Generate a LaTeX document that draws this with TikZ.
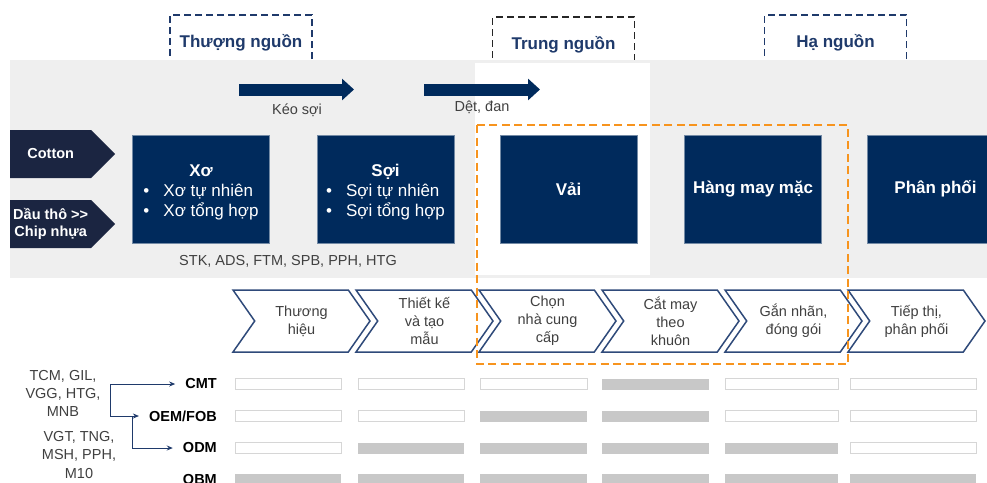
\documentclass[tikz,border=0pt]{standalone}
\usepackage{fontspec}
\setmainfont{Liberation Sans}
\definecolor{navy}{RGB}{0,42,92}
\definecolor{tagnavy}{RGB}{27,37,65}
\definecolor{headblue}{RGB}{31,58,107}
\definecolor{chevblue}{RGB}{47,74,122}
\definecolor{accent}{RGB}{247,148,30}
\definecolor{bandgray}{RGB}{239,239,239}
\definecolor{bargray}{RGB}{200,200,200}
\definecolor{barline}{RGB}{214,214,214}
\definecolor{textgray}{RGB}{64,64,64}
\usetikzlibrary{arrows.meta,shapes.symbols,positioning}
\tikzset{
  phase/.style={rectangle,draw=headblue,text=headblue,line width=1.8pt,
                dash pattern=on 7pt off 4pt,minimum width=142pt,
                minimum height=56pt,font=\fontsize{17}{20}\selectfont\bfseries},
  stage/.style={rectangle,fill=navy,draw=navy!55!white,line width=0.8pt,
                minimum width=137pt,minimum height=108pt,text=white,
                align=center,inner sep=0pt,font=\fontsize{17}{20}\selectfont},
  tag/.style={signal,signal to=east,signal pointer angle=90,fill=tagnavy,
              text=white,minimum width=105pt,minimum height=48pt,inner sep=2pt,
              align=center,font=\fontsize{14.5}{17}\selectfont\bfseries},
  chev/.style={signal,signal from=west,signal to=east,signal pointer angle=110,
               draw=chevblue,line width=1.5pt,fill=white,minimum width=137pt,
               minimum height=62pt,inner sep=1pt,align=center,text=textgray,
               font=\fontsize{14.5}{18}\selectfont},
  note/.style={text=textgray,font=\fontsize{14.5}{17}\selectfont},
  grp/.style={text=textgray,align=center,font=\fontsize{14.5}{18}\selectfont},
  rowlab/.style={anchor=east,inner sep=3pt,font=\fontsize{14.5}{17}\selectfont\bfseries},
  bigarrow/.style={line width=12pt,navy,-{Triangle[length=12pt,width=21pt]}},
  link/.style={-{Stealth[length=6pt,width=5pt]},line width=1pt,headblue,shorten >=7pt},
  baron/.style={rectangle,fill=bargray,minimum height=11pt,inner sep=0pt,anchor=west},
  baroff/.style={rectangle,fill=white,draw=barline,line width=1pt,
                 minimum height=11pt,inner sep=0pt,anchor=west},
}
\begin{document}
\begin{tikzpicture}[x=1pt,y=-1pt]
  \clip (0,0) rectangle (987,482);

  \node[phase] (up) at (241,43) {Thượng nguồn};
  \node[phase,draw=black!85] (mid) at (563.5,45) {Trung nguồn};
  \node[phase] (down) at (835.5,43) {Hạ nguồn};

  \fill[bandgray] (10,60) rectangle (987,278);
  \fill[white] (475,63) rectangle (650,275);

  \coordinate (a1s) at (239,89.5);
  \coordinate (a1e) at (354,89.5);
  \coordinate (a2s) at (424,89.5);
  \coordinate (a2e) at (540,89.5);
  \draw[bigarrow] (a1s) -- (a1e);
  \draw[bigarrow] (a2s) -- (a2e);
  \node[note] (keo) at (297,110) {Kéo sợi};
  \node[note] (det) at (482,107) {Dệt, đan};

  \node[tag,anchor=west] (cotton) at (10,154) {Cotton};
  \node[tag,anchor=west] (oil) at (10,224) {Dầu thô >\kern0pt>\\Chip nhựa};

  \node[stage] (xo) at (201,189.5) {\rule{0pt}{20pt}{\bfseries Xơ}\\
    \begin{tabular}[t]{@{}l@{\hspace{14pt}}l@{}}•&Xơ tự nhiên\\•&Xơ tổng hợp\end{tabular}};
  \node[stage] (soi) at (385.5,189.5) {\rule{0pt}{20pt}{\bfseries Sợi}\\
    \begin{tabular}[t]{@{}l@{\hspace{14pt}}l@{}}•&Sợi tự nhiên\\•&Sợi tổng hợp\end{tabular}};
  \node[stage,font=\fontsize{17}{20}\selectfont\bfseries] (vai) at (568.5,189) {Vải};
  \node[stage,font=\fontsize{17}{20}\selectfont\bfseries] (garment) at (753,189) {Hàng may mặc};
  \node[stage,font=\fontsize{17}{20}\selectfont\bfseries] (dist) at (935.5,189) {Phân phối};
  \node[note] (firms) at (288,261) {STK, ADS, FTM, SPB, PPH, HTG};

  \foreach \lab [count=\i] in {Thương\\hiệu, Thiết kế\\và tạo\\mẫu,
      Chọn\\nhà cung\\cấp, Cắt may\\theo\\khuôn, {Gắn nhãn,\\đóng gói},
      {Tiếp thị,\\phân phối}}
    \node[chev] (c\i) at ({301.5+123*(\i-1)},321) {\lab};

  \draw[accent,line width=2.8pt,dash pattern=on 8pt off 4.5pt]
    (477,125) rectangle (848,364);

  \node[rowlab] (cmt) at (220,384) {CMT};
  \node[rowlab] (oem) at (220,416) {OEM/FOB};
  \node[rowlab] (odm) at (220,448) {ODM};
  \node[rowlab] (obm) at (220,479) {OBM};

  \foreach \y/\lo/\hi [count=\r] in {384/4/4,416/3/4,448/2/5,479/1/6}
    \foreach \x/\w [count=\c] in {235/106,358/106,480/107,602/107,725/113,850/126}{
      \ifnum\c<\lo \def\st{baroff}\else\ifnum\c>\hi \def\st{baroff}\else\def\st{baron}\fi\fi
      \node[\st,minimum width=\w pt] (bar\r-\c) at (\x,\y) {};
    }

  \node[grp] (grpA) at (63,393) {TCM, GIL,\\VGG, HTG,\\MNB};
  \node[grp] (grpB) at (79,455) {VGT, TNG,\\MSH, PPH,\\M10};
  \coordinate (j1) at (110,384);
  \coordinate (j2) at (132,416);
  \draw[link] (j1) -- (cmt.west);
  \draw[link] (j1) |- (oem.west);
  \draw[link] (j2) |- (odm.west);
\end{tikzpicture}
\end{document}
